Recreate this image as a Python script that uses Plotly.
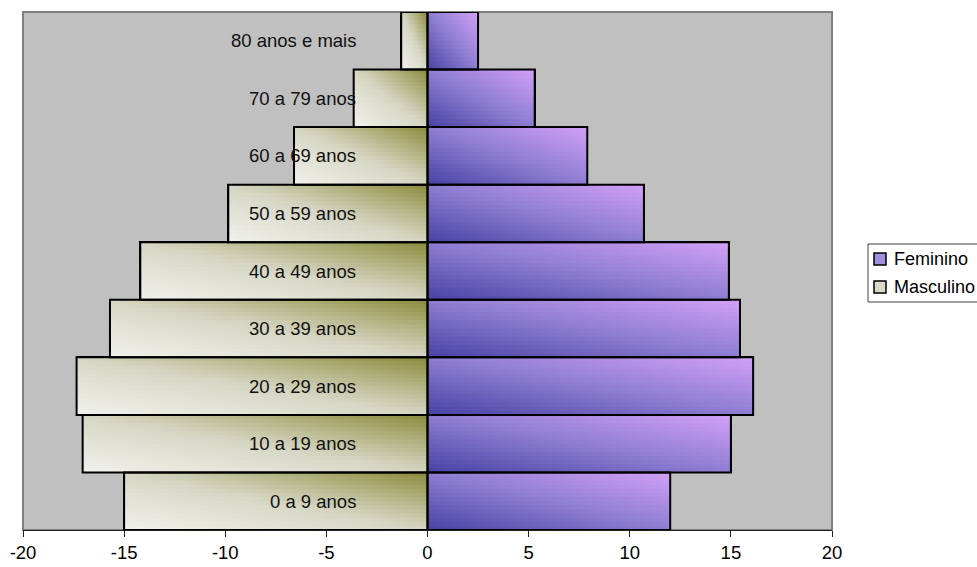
import plotly.graph_objects as go

# Population pyramid: share of population (%) by age group and sex
age_groups = [
    "0 a 9 anos", "10 a 19 anos", "20 a 29 anos", "30 a 39 anos",
    "40 a 49 anos", "50 a 59 anos", "60 a 69 anos", "70 a 79 anos",
    "80 anos e mais",
]
masculino = [-15.0, -17.05, -17.35, -15.7, -14.2, -9.85, -6.6, -3.65, -1.3]
feminino = [12.0, 15.0, 16.1, 15.45, 14.9, 10.7, 7.9, 5.3, 2.5]
x_ticks = [-20, -15, -10, -5, 0, 5, 10, 15, 20]
series_names = ["Feminino", "Masculino"]

FONT = "Liberation Sans, Arial, sans-serif"
W, H = 977, 567
M_L, M_R, M_T, M_B = 23, 145, 12, 37

# Diagonal gradient ramps (t=0 bottom-left corner, t=1 top-right corner)
RAMP_M = [(0.0, (241, 241, 237)), (0.5, (214, 214, 196)), (0.8, (170, 170, 115)), (1.0, (138, 138, 60))]
RAMP_F = [(0.0, (72, 66, 164)), (0.5, (142, 126, 210)), (1.0, (210, 160, 247))]


def ramp_color(stops, t):
    t = max(0.0, min(1.0, t))
    for (t0, c0), (t1, c1) in zip(stops[:-1], stops[1:]):
        if t <= t1:
            f = (t - t0) / (t1 - t0) if t1 > t0 else 0
            c = [round(a + (b - a) * f) for a, b in zip(c0, c1)]
            return "rgb(%d,%d,%d)" % tuple(c)
    return "rgb(%d,%d,%d)" % stops[-1][1]


def px_x(px):
    return (px - M_L) / (W - M_L - M_R)


def px_y(py):
    return (H - M_B - py) / (H - M_T - M_B)


fig = go.Figure()

# Base bars
fig.add_trace(go.Bar(
    y=list(range(len(age_groups))), x=feminino, orientation="h", width=1,
    name="Feminino", marker=dict(color="#9a88d8", line=dict(color="black", width=2)),
    hoverinfo="skip",
))
fig.add_trace(go.Bar(
    y=list(range(len(age_groups))), x=masculino, orientation="h", width=1,
    name="Masculino", marker=dict(color="#cfcfb8", line=dict(color="black", width=2)),
    hoverinfo="skip",
))

# Gradient fill laid over each bar as thin horizontal strips
N_STRIPS = 14
U_STEPS = [0, 0.2, 0.4, 0.6, 0.8, 1.0]
for values, stops in ((masculino, RAMP_M), (feminino, RAMP_F)):
    for i, v in enumerate(values):
        lo, hi = sorted((0.0, v))
        for k in range(N_STRIPS):
            y0 = i - 0.5 + k / N_STRIPS
            y1 = y0 + 1 / N_STRIPS + (0.012 if k < N_STRIPS - 1 else 0)
            vm = (k + 0.5) / N_STRIPS
            cs = [[u, ramp_color(stops, (u + vm) / 2)] for u in U_STEPS]
            fig.add_trace(go.Scatter(
                x=[lo, hi, hi, lo, lo], y=[y0, y0, y1, y1, y0],
                mode="none", fill="toself",
                fillgradient=dict(type="horizontal", colorscale=cs),
                hoverinfo="skip", showlegend=False,
            ))

# Black outlines on top of the gradients
for values in (masculino, feminino):
    xs, ys = [], []
    for i, v in enumerate(values):
        xs += [0, v, v, 0, 0, None]
        ys += [i - 0.5, i - 0.5, i + 0.5, i + 0.5, i - 0.5, None]
    fig.add_trace(go.Scatter(
        x=xs, y=ys, mode="lines", line=dict(color="black", width=2),
        hoverinfo="skip", showlegend=False,
    ))

# Age-group labels, right-aligned left of the zero line
for i, label in enumerate(age_groups):
    fig.add_annotation(
        x=0, y=i, xref="x", yref="y", text=label, showarrow=False,
        xanchor="right", yanchor="middle", xshift=-70,
        font=dict(family=FONT, size=18.5, color="#111111"),
    )

# Legend box at the right edge of the page
shapes = [
    dict(type="rect", xref="paper", yref="paper", x0=0, x1=1, y0=0, y1=1,
         line=dict(color="#808080", width=2), layer="below"),
    dict(type="rect", xref="paper", yref="paper",
         x0=px_x(868), x1=px_x(995), y0=px_y(302), y1=px_y(244),
         line=dict(color="#404040", width=1), fillcolor="white", layer="above"),
]
legend_rows = [259, 287]
legend_fill = ["#a090dc", "#dadac6"]
for name, row, fill in zip(series_names, legend_rows, legend_fill):
    shapes.append(dict(
        type="rect", xref="paper", yref="paper",
        x0=px_x(874), x1=px_x(886), y0=px_y(row + 6), y1=px_y(row - 6),
        line=dict(color="black", width=1.5), fillcolor=fill, layer="above",
    ))
    fig.add_annotation(
        x=px_x(892), y=px_y(row), xref="paper", yref="paper", text=name,
        showarrow=False, xanchor="left", yanchor="middle",
        font=dict(family=FONT, size=18, color="black"),
    )

fig.update_layout(
    width=W, height=H,
    margin=dict(l=M_L, r=M_R, t=M_T, b=M_B, autoexpand=False),
    paper_bgcolor="white", plot_bgcolor="#c0c0c0",
    barmode="overlay", bargap=0,
    font=dict(family=FONT, size=18.5, color="black"),
    showlegend=False,
    shapes=shapes,
)

fig.update_xaxes(
    range=[-20, 20], tickvals=x_ticks, ticktext=[str(t) for t in x_ticks],
    ticks="outside", ticklen=6, tickcolor="#202020", tickwidth=1,
    showline=True, linecolor="#202020", linewidth=1,
    showgrid=False, zeroline=False, fixedrange=True,
    tickfont=dict(family=FONT, size=18.5, color="black"),
)
fig.update_yaxes(
    range=[-0.5, 8.5], showticklabels=False, showgrid=False,
    zeroline=False, fixedrange=True,
)

fig.write_html("out.html")
